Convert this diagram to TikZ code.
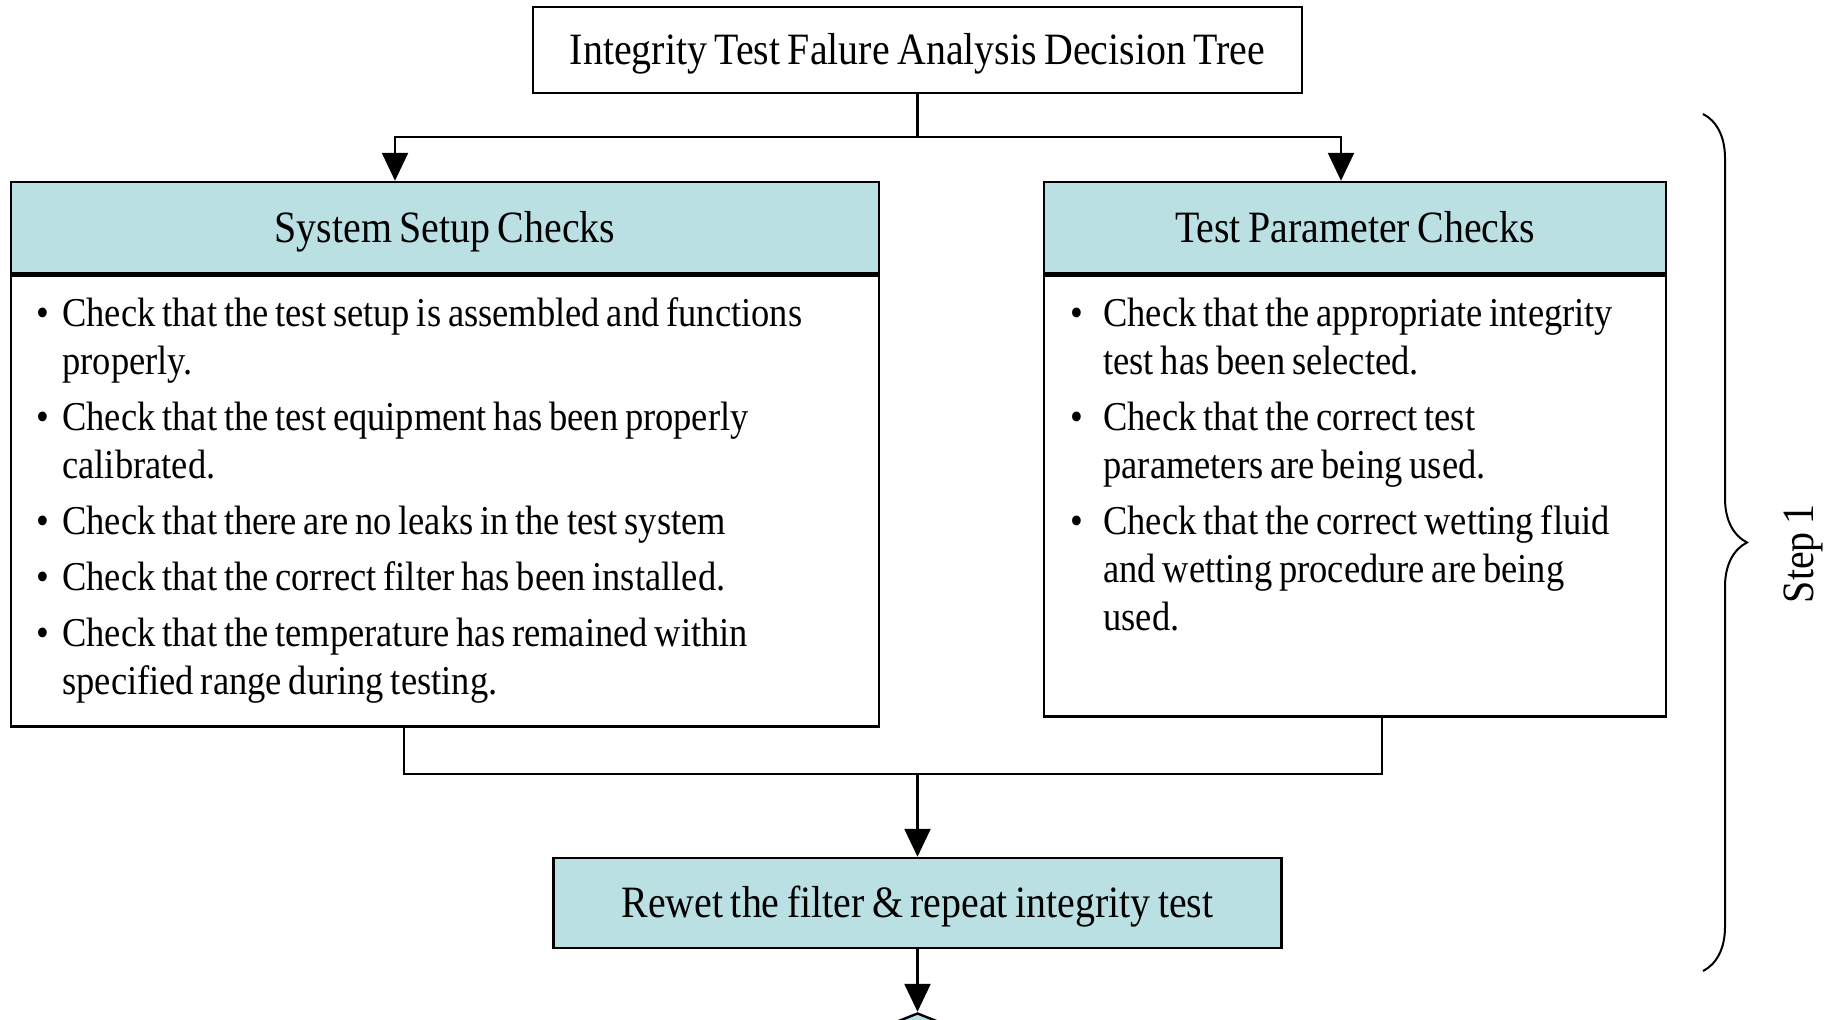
\documentclass[tikz,border=0pt]{standalone}
\usepackage{fontspec}
\setmainfont{Liberation Serif}[FakeStretch=0.89, WordSpace=0.75]
\usepackage{enumitem}
\usetikzlibrary{positioning,arrows.meta,shapes.geometric,decorations.pathreplacing}
\definecolor{hdrfill}{RGB}{186,224,227}
\tikzset{
	box/.style={draw, line width=1.2pt, inner sep=0pt},
	bigfont/.style={font=\fontsize{22.4}{26}\selectfont, text height=19pt, text depth=4pt},
	hdr/.style={box, fill=hdrfill, bigfont},
	bodytext/.style={anchor=north west, inner sep=0pt, font=\fontsize{20.5}{24}\selectfont},
	conn/.style={line width=1.2pt},
	arr/.style={conn, -{Triangle[length=14pt,width=13pt]}},
	brc/.style={line width=1pt, decorate, decoration={brace, amplitude=22pt}}
}
\begin{document}
\begin{tikzpicture}[x=0.5pt, y=-0.5pt]
	\useasboundingbox (0,0) rectangle (1838,1020);
	% title
	\node[box, bigfont, minimum width=384.5pt, minimum height=43pt] (title) at (917.5,50) {Integrity Test Falure Analysis Decision Tree};
	% left column
	\node[hdr, minimum width=434pt, minimum height=45.5pt] (sys) at (445,227.5) {System Setup Checks};
	\node[box, anchor=north, minimum width=434pt, minimum height=225.5pt] (sysbox) at (sys.south) {};
	\node[bodytext, text width=412pt] (syslist) at (36,278) {\raggedright\spaceskip=0pt\xspaceskip=0pt
		\begin{itemize}[leftmargin=13pt, labelsep=6.5pt, itemsep=4pt, topsep=0pt, partopsep=0pt, parsep=0pt]
			\item Check that the test setup is assembled and functions\newline properly.
			\item Check that the test equipment has been properly\newline calibrated.
			\item Check that there are no leaks in the test system
			\item Check that the correct filter has been installed.
			\item Check that the temperature has remained within\newline specified range during testing.
		\end{itemize}};
	% right column
	\node[hdr, minimum width=311pt, minimum height=45.5pt] (par) at (1355,227.5) {Test Parameter Checks};
	\node[box, anchor=north, minimum width=311pt, minimum height=220.5pt] (parbox) at (par.south) {};
	\node[bodytext, text width=292pt] (parlist) at (1066,278) {\raggedright\spaceskip=0pt\xspaceskip=0pt
		\begin{itemize}[leftmargin=18.5pt, labelsep=10pt, itemsep=4pt, topsep=0pt, partopsep=0pt, parsep=0pt]
			\item Check that the appropriate integrity\newline test has been selected.
			\item Check that the correct test\newline parameters are being used.
			\item Check that the correct wetting fluid\newline and wetting procedure are being\newline used.
		\end{itemize}};
	% retest and next decision
	\node[hdr, minimum width=364pt, minimum height=45pt] (rewet) at (917.5,903) {Rewet the filter \& repeat integrity test};
	\node[box, diamond, fill=hdrfill, minimum width=150pt, minimum height=60pt, aspect=2.5] (decide) at (917.5,1073) {};
	% connectors
	\coordinate (split) at (917.5,137);
	\coordinate (merge) at (917.5,774);
	\draw[conn] (title.south) -- (split);
	\draw[arr] (split) -| ([xshift=-25pt]sys.north);
	\draw[arr] (split) -| ([xshift=-7pt]par.north);
	\draw[conn] ([xshift=-20.5pt]sysbox.south) |- (merge) -| ([xshift=13.5pt]parbox.south);
	\draw[arr] (merge) -- (rewet);
	\draw[arr] (rewet) -- (decide);
	% step brace
	\coordinate (brtop) at (1703,114);
	\coordinate (brbot) at (1703,971);
	\draw[brc] (brtop) -- (brbot);
	\node[rotate=90, font=\fontsize{22.4}{26}\selectfont] (steplbl) at (1803,554) {Step 1};
\end{tikzpicture}
\end{document}
